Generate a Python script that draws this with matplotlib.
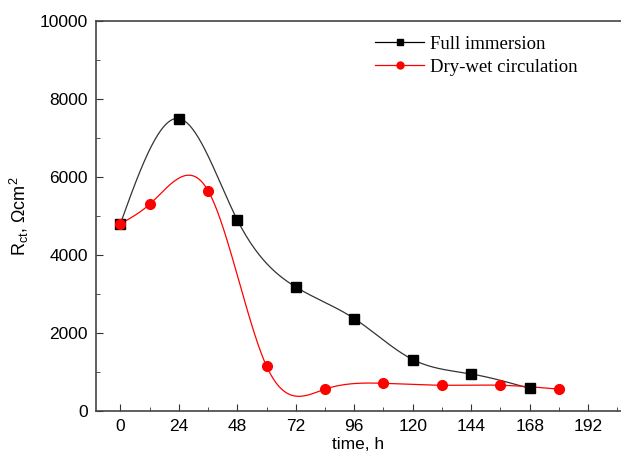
import numpy as np
import matplotlib
matplotlib.use("Agg")
import matplotlib.pyplot as plt
from matplotlib.ticker import MultipleLocator

# ---------------------------------------------------------------------------
# Data
# ---------------------------------------------------------------------------
full_t = [0, 24, 48, 72, 96, 120, 144, 168]
full_r = [4800, 7500, 4900, 3180, 2370, 1320, 950, 580]

dry_t = [0, 12, 36, 60, 84, 108, 132, 156, 180]
dry_r = [4800, 5300, 5650, 1150, 560, 710, 660, 660, 560]

x_ticks = [0, 24, 48, 72, 96, 120, 144, 168, 192]


def natural_spline(x, y, n=400):
    """Natural cubic spline through (x, y), sampled at n points."""
    x = np.asarray(x, float)
    y = np.asarray(y, float)
    m = len(x)
    h = np.diff(x)
    A = np.zeros((m, m))
    b = np.zeros(m)
    A[0, 0] = A[-1, -1] = 1.0
    for i in range(1, m - 1):
        A[i, i - 1] = h[i - 1]
        A[i, i] = 2 * (h[i - 1] + h[i])
        A[i, i + 1] = h[i]
        b[i] = 6 * ((y[i + 1] - y[i]) / h[i] - (y[i] - y[i - 1]) / h[i - 1])
    M = np.linalg.solve(A, b)
    xs = np.linspace(x[0], x[-1], n)
    k = np.clip(np.searchsorted(x, xs) - 1, 0, m - 2)
    t0 = x[k + 1] - xs
    t1 = xs - x[k]
    hk = h[k]
    ys = (M[k] * t0**3 + M[k + 1] * t1**3) / (6 * hk) \
        + (y[k] / hk - M[k] * hk / 6) * t0 \
        + (y[k + 1] / hk - M[k + 1] * hk / 6) * t1
    return xs, ys


# ---------------------------------------------------------------------------
# Figure
# ---------------------------------------------------------------------------
plt.rcParams['font.family'] = ['Liberation Sans', 'DejaVu Sans']

fig = plt.figure(figsize=(6.21, 4.59), dpi=100)
ax = fig.add_axes([96 / 621, 48 / 459, 525 / 621, 390 / 459])

xs, ys = natural_spline(full_t, full_r)
ax.plot(xs, ys, color='#333333', lw=0.9)
xs, ys = natural_spline(dry_t, dry_r)
ax.plot(xs, ys, color='red', lw=0.9)

ax.plot(full_t, full_r, 's', color='black', ms=7, ls='none')
ax.plot(dry_t, dry_r, 'o', color='red', ms=7, ls='none')

# legend proxies: line with marker in the middle
h1, = ax.plot([], [], '-s', color='black', lw=0.9, ms=5)
h2, = ax.plot([], [], '-o', color='red', lw=0.9, ms=5)
ax.legend([h1, h2], ['Full immersion', 'Dry-wet circulation'],
          loc='upper left', bbox_to_anchor=(0.50, 1.005), frameon=False,
          numpoints=1, handlelength=2.6, handletextpad=0.3, labelspacing=0.3,
          prop={'family': 'Liberation Serif', 'size': 13.5})

ax.set_xlim(-10, 205.5)
ax.set_ylim(0, 10000)
ax.set_xticks(x_ticks)
ax.xaxis.set_minor_locator(MultipleLocator(12))
ax.yaxis.set_major_locator(MultipleLocator(2000))
ax.yaxis.set_minor_locator(MultipleLocator(1000))
ax.tick_params(which='both', direction='in', labelsize=12.5, color='#333333')
ax.tick_params(which='major', length=5, pad=6)
ax.tick_params(which='minor', length=3)

for side in ('left', 'bottom', 'top'):
    ax.spines[side].set_linewidth(1.2)
    ax.spines[side].set_color('#444444')
ax.spines['right'].set_visible(False)

ax.set_xlabel('time, h', fontsize=12.5, labelpad=2)
ax.set_ylabel(r'R$_{\mathregular{ct}}$, $\mathregular{\Omega}$cm$^{\mathregular{2}}$',
              fontsize=13, labelpad=6)

fig.savefig('out.png', dpi=100)
